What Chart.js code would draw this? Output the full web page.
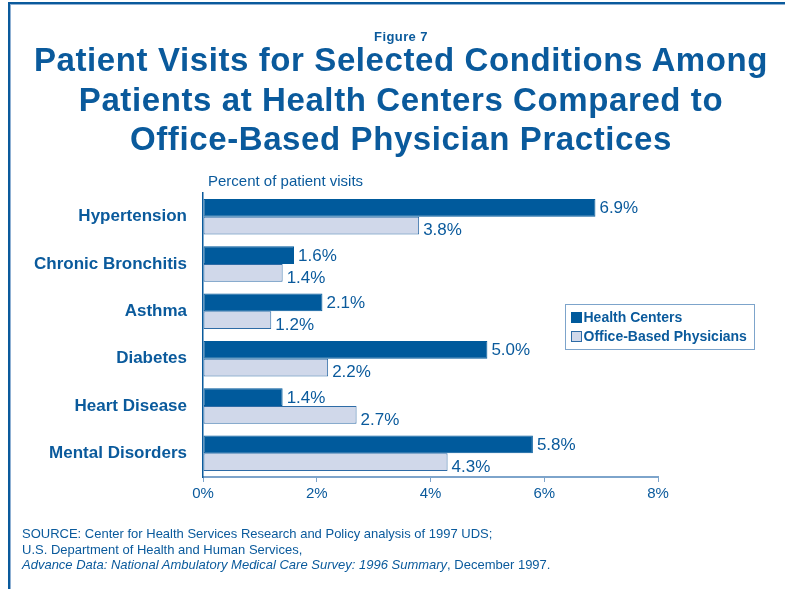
<!DOCTYPE html>
<html>
<head>
<meta charset="utf-8">
<script src="https://cdn.jsdelivr.net/npm/chart.js@4.4.0/dist/chart.umd.min.js"></script>
<style>
  html, body { margin: 0; padding: 0; background: #fff; }
  body { width: 785px; height: 589px; position: relative; overflow: hidden;
         font-family: "Liberation Sans", Arial, sans-serif; color: #0A5A9C; }
  #frame { position: absolute; left: 8px; top: 2px; right: -10px; bottom: -10px;
           border-top: 2px solid #0A5A9C; border-left: 2px solid #0A5A9C; }
  #frame2 { position: absolute; left: 10px; top: 4px; right: -10px; bottom: -10px;
            border-top: 1px solid #8FB0D3; border-left: 1px solid #8FB0D3; }
  canvas { position: absolute; left: 0; top: 0; }
  .txt { position: absolute; white-space: nowrap; }
  #fig { left: 0; width: 802px; top: 29px; text-align: center; font-size: 13px; font-weight: bold;
         letter-spacing: 0.4px; }
  #title { left: 0; width: 802px; top: 40px; text-align: center; font-size: 33px; font-weight: bold;
           line-height: 39.5px; letter-spacing: 0.6px; }
  #sub { left: 208px; top: 172px; font-size: 15px; }
  #src { left: 22px; top: 526px; font-size: 13px; line-height: 15.5px; }
</style>
</head>
<body>
<div id="frame"></div>
<div id="frame2"></div>
<canvas id="chart" width="785" height="589"></canvas>
<div class="txt" id="fig">Figure 7</div>
<div class="txt" id="title">Patient Visits for Selected Conditions Among<br>Patients at Health Centers Compared to<br>Office-Based Physician Practices</div>
<div class="txt" id="sub">Percent of patient visits</div>
<div class="txt" id="src">SOURCE: Center for Health Services Research and Policy analysis of 1997 UDS;<br>U.S. Department of Health and Human Services,<br><i>Advance Data: National Ambulatory Medical Care Survey: 1996 Summary</i>, December 1997.</div>
<script>
const categories = ['Hypertension', 'Chronic Bronchitis', 'Asthma', 'Diabetes', 'Heart Disease', 'Mental Disorders'];
const healthCenters = [6.9, 1.6, 2.1, 5.0, 1.4, 5.8];
const officeBased = [3.8, 1.4, 1.2, 2.2, 2.7, 4.3];
const seriesNames = ['Health Centers', 'Office-Based Physicians'];

const blue = '#0A5A9C';
const darkBar = '#005A9C';
const lightBar = '#D0D8EA';
const axisLight = '#7DA4CB';
const fontFam = '"Liberation Sans", Arial, sans-serif';

// value labels at the end of each bar (second series sits a little lower, as in the original)
const valueLabels = {
  id: 'valueLabels',
  afterDatasetsDraw(chart) {
    const ctx = chart.ctx;
    ctx.save();
    ctx.font = '17px ' + fontFam;
    ctx.fillStyle = blue;
    ctx.textAlign = 'left';
    ctx.textBaseline = 'middle';
    chart.data.datasets.forEach((ds, i) => {
      chart.getDatasetMeta(i).data.forEach((bar, j) => {
        ctx.fillText(ds.data[j].toFixed(1) + '%', bar.x + 4, bar.y + (i === 0 ? 1 : 5));
      });
    });
    ctx.restore();
  }
};

// boxed legend sitting at the right of the plot
const boxLegend = {
  id: 'boxLegend',
  afterDraw(chart) {
    const ctx = chart.ctx;
    const bx = 565.5, by = 304.5, bw = 189, bh = 45;
    ctx.save();
    ctx.fillStyle = '#fff';
    ctx.fillRect(bx, by, bw, bh);
    ctx.strokeStyle = axisLight;
    ctx.lineWidth = 1;
    ctx.strokeRect(bx, by, bw, bh);
    ctx.font = 'bold 14px ' + fontFam;
    ctx.textBaseline = 'middle';
    chart.data.datasets.forEach((ds, i) => {
      const y = by + 13 + i * 19;
      ctx.fillStyle = ds.backgroundColor;
      ctx.fillRect(bx + 6, y - 5, 10, 10);
      ctx.strokeStyle = ds.borderColor;
      ctx.strokeRect(bx + 6, y - 5, 10, 10);
      ctx.fillStyle = blue;
      ctx.fillText(ds.label, bx + 18, y + 1);
    });
    ctx.restore();
  }
};

new Chart(document.getElementById('chart'), {
  type: 'bar',
  data: {
    labels: categories,
    datasets: [
      { label: seriesNames[0], data: healthCenters, backgroundColor: darkBar, borderColor: darkBar,
        borderWidth: 1, borderSkipped: false, categoryPercentage: 0.75, barPercentage: 1 },
      { label: seriesNames[1], data: officeBased, backgroundColor: lightBar, borderColor: '#2D6BA6',
        borderWidth: 1, borderSkipped: false, categoryPercentage: 0.75, barPercentage: 1 }
    ]
  },
  options: {
    indexAxis: 'y',
    responsive: false,
    animation: false,
    layout: { padding: { top: 193, right: 127, bottom: 0, left: 0 } },
    plugins: { legend: { display: false }, tooltip: { enabled: false } },
    scales: {
      x: {
        min: 0, max: 8,
        ticks: { stepSize: 2, callback: v => v + '%', color: blue, padding: 3,
                 font: { family: fontFam, size: 15 } },
        grid: { drawOnChartArea: false, drawTicks: true, tickLength: 5, color: axisLight },
        border: { color: axisLight, width: 2 },
        afterFit: s => { s.height = 112; }
      },
      y: {
        ticks: { color: blue, padding: 8, font: { family: fontFam, size: 17, weight: 'bold' } },
        grid: { display: false },
        border: { color: blue, width: 1.5 },
        afterFit: s => { s.width = 203; }
      }
    }
  },
  plugins: [valueLabels, boxLegend]
});
</script>
</body>
</html>
